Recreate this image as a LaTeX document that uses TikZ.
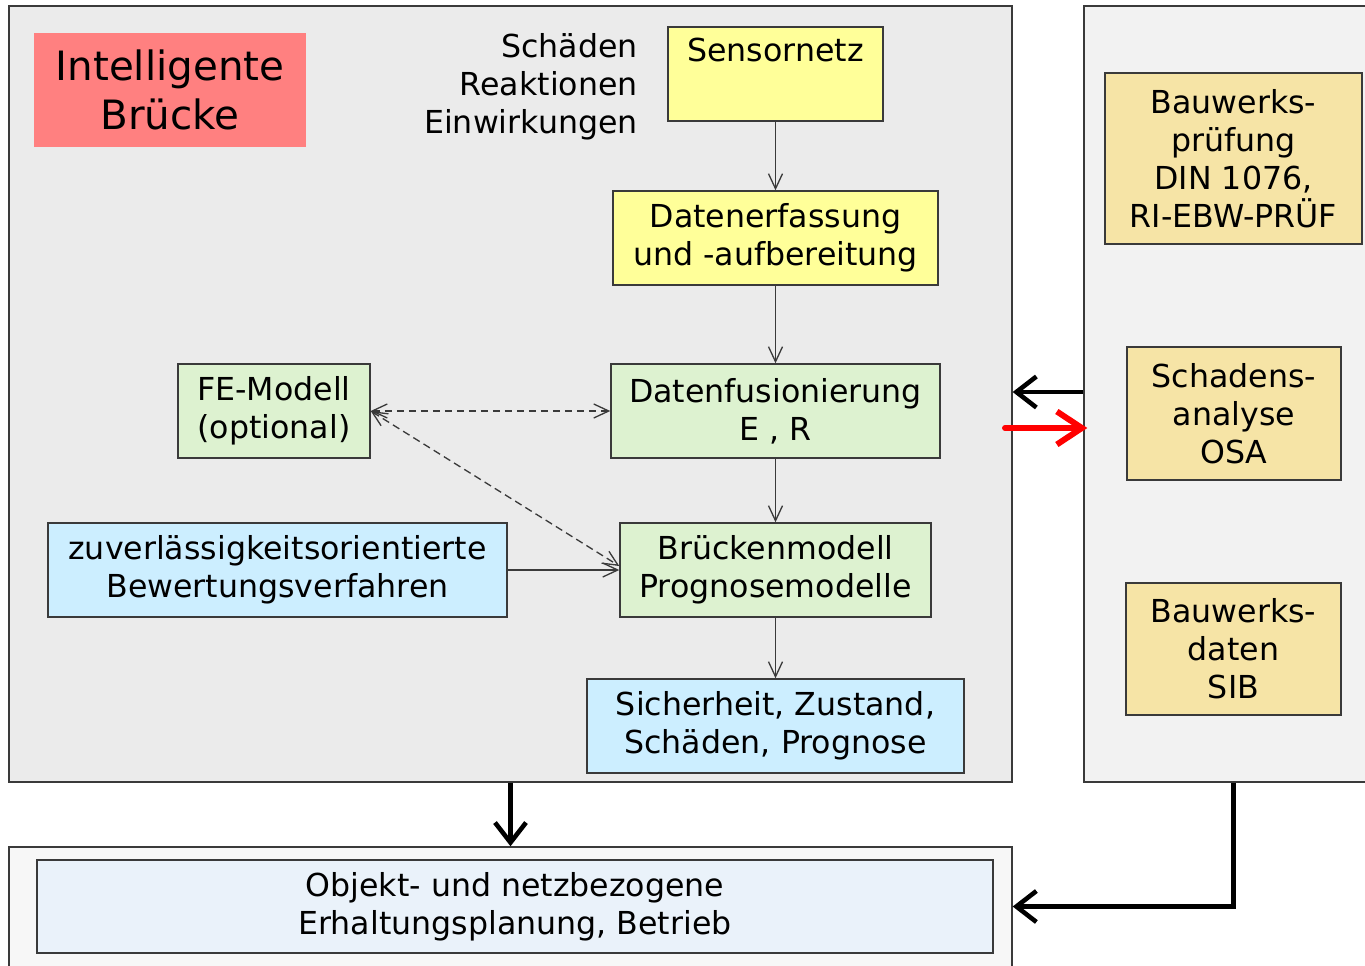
\documentclass[tikz,border=0pt]{standalone}
\usepackage{fontspec}
\setmainfont{DejaVu Sans}
\usetikzlibrary{arrows.meta}

\definecolor{rahmen}{HTML}{3A3A3A}
\definecolor{lachs}{HTML}{FF8080}
\definecolor{gelb}{HTML}{FFFF99}
\definecolor{hellgruen}{HTML}{DDF2D0}
\definecolor{hellblau}{HTML}{CCEEFF}
\definecolor{sand}{HTML}{F6E4A6}
\definecolor{eisblau}{HTML}{EAF2FA}

\tikzset{
    kasten/.style={draw=rahmen, line width=0.85pt, align=center, inner sep=0pt,
        font=\fontsize{18}{21.6}\selectfont},
    feld/.style={draw=rahmen, line width=0.85pt, inner sep=0pt},
    pfeil/.style={draw=rahmen, line width=0.75pt, -{Straight Barb[length=0.3cm, width=0.28cm]}},
    strichpfeil/.style={pfeil, dashed, dash pattern=on 1.5mm off 0.9mm, {Straight Barb[length=0.3cm, width=0.28cm]}-{Straight Barb[length=0.3cm, width=0.28cm]}},
    dickpfeil/.style={black, line width=2.6pt, -{Straight Barb[length=0.4cm, width=0.62cm]}},
    rotpfeil/.style={red, line width=3.4pt, line cap=round, -{Straight Barb[length=0.5cm, width=0.66cm]}}
}

\begin{document}
\begin{tikzpicture}[x=0.02cm, y=-0.02cm]

    \clip (0,0) rectangle (1365,966); % Bildrand

    % Felder (Hintergrund)
    \node[feld, fill=black!8, minimum width=20.06cm, minimum height=15.52cm] (links) at (510.5,394) {};
    \node[feld, fill=black!5, minimum width=6.32cm, minimum height=15.52cm] (rechts) at (1242,394) {};
    \node[feld, fill=black!3, minimum width=20.06cm, minimum height=3.06cm] (unten) at (510.5,923.5) {};

    % Titel
    \node[fill=lachs, align=center, inner sep=0pt, minimum width=5.44cm, minimum height=2.30cm,
        font=\fontsize{23}{27.5}\selectfont] (titel) at (170,90) {Intelligente\\Brücke};

    % Messgroessen
    \node[anchor=east, align=right, inner sep=0pt, font=\fontsize{18}{21.6}\selectfont] (messung) at (638,87) {Schäden\\Reaktionen\\Einwirkungen};

    % linke Kette
    \node[kasten, fill=gelb, minimum width=4.30cm, minimum height=1.88cm] (sensor) at (775.5,74) {Sensornetz\\\strut};
    \node[kasten, fill=gelb, minimum width=6.50cm, minimum height=1.88cm] (erfassung) at (775.5,238) {Datenerfassung\\und -aufbereitung};
    \node[kasten, fill=hellgruen, minimum width=6.58cm, minimum height=1.88cm] (fusion) at (775.5,411) {Datenfusionierung\\E , R};
    \node[kasten, fill=hellgruen, minimum width=3.84cm, minimum height=1.88cm] (femodell) at (274,411) {FE-Modell\\(optional)};
    \node[kasten, fill=hellblau, minimum width=9.18cm, minimum height=1.88cm] (bewertung) at (277.5,570) {zuverlässigkeitsorientierte\\Bewertungsverfahren};
    \node[kasten, fill=hellgruen, minimum width=6.22cm, minimum height=1.88cm] (modell) at (775.5,570) {Brückenmodell\\Prognosemodelle};
    \node[kasten, fill=hellblau, minimum width=7.54cm, minimum height=1.88cm] (sicherheit) at (775.5,726) {Sicherheit, Zustand,\\Schäden, Prognose};

    % rechte Spalte
    \node[kasten, fill=sand, minimum width=5.14cm, minimum height=3.42cm] (pruefung) at (1233.5,158.5) {Bauwerks-\\prüfung\\DIN 1076,\\RI-EBW-PRÜF};
    \node[kasten, fill=sand, minimum width=4.28cm, minimum height=2.66cm] (analyse) at (1234,413.5) {Schadens-\\analyse\\OSA};
    \node[kasten, fill=sand, minimum width=4.30cm, minimum height=2.64cm] (bwdaten) at (1233.5,649) {Bauwerks-\\daten\\SIB};

    % unten
    \node[kasten, fill=eisblau, minimum width=19.12cm, minimum height=1.86cm] (erhaltung) at (515,906.5) {Objekt- und netzbezogene\\Erhaltungsplanung, Betrieb};

    % Pfeile in der Kette
    \draw[pfeil] (sensor) -- (erfassung);
    \draw[pfeil] (erfassung) -- (fusion);
    \draw[pfeil] (fusion) -- (modell);
    \draw[pfeil] (modell) -- (sicherheit);
    \draw[pfeil] (bewertung) -- (modell);
    \draw[strichpfeil] (femodell.east) -- (fusion.west);
    \draw[strichpfeil] (femodell.east) -- ([yshift=0.08cm]modell.west);

    % Pfeile zwischen den Feldern
    \draw[dickpfeil] ([yshift=0.04cm]rechts.west) -- ([yshift=0.04cm]links.east);
    \coordinate (rotstart) at (1005,428);
    \draw[rotpfeil] (rotstart) -- ([xshift=0.08cm]rotstart -| rechts.west);
    \draw[dickpfeil] (links.south) -- (unten.north);
    \draw[dickpfeil] (bwdaten.south |- rechts.south) |- (unten.east |- erhaltung.east);

\end{tikzpicture}
\end{document}
